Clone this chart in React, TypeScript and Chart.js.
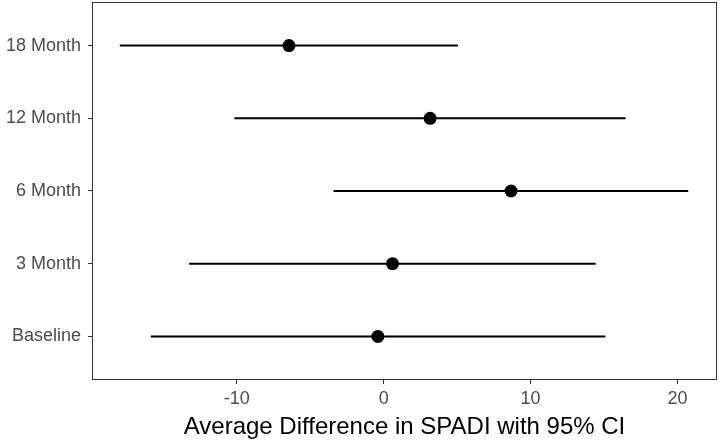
import React, { useEffect, useRef } from "react";
import { Chart, registerables } from "chart.js";

Chart.register(...registerables);

const categories = ["Baseline", "3 Month", "6 Month", "12 Month", "18 Month"];
const means = [-0.4, 0.6, 8.67, 3.16, -6.45];
const lowers = [-15.86, -13.25, -3.41, -10.17, -17.97];
const uppers = [15.09, 14.43, 20.73, 16.47, 5.05];
const xTicks = [-10, 0, 10, 20];

const FONT = "'Liberation Sans', Arial, sans-serif";

const panelBorder = {
  id: "panelBorder",
  afterDraw(chart: any) {
    const { ctx, chartArea } = chart;
    ctx.save();
    ctx.strokeStyle = "#333333";
    ctx.lineWidth = 1;
    ctx.strokeRect(
      Math.round(chartArea.left) + 0.5,
      Math.round(chartArea.top) + 0.5,
      Math.round(chartArea.right - chartArea.left) - 1,
      Math.round(chartArea.bottom - chartArea.top) - 1
    );
    ctx.restore();
  },
};

const zeroPad = (s: any) => {
  s.paddingLeft = 0;
  s.paddingRight = 0;
  s.paddingTop = 0;
  s.paddingBottom = 0;
};

export default function App() {
  const ref = useRef<HTMLCanvasElement>(null);
  useEffect(() => {
    document.body.style.margin = "0";
    const ciSets = categories.map((c, i) => ({
      type: "line" as const,
      label: c + " CI",
      data: [
        { x: lowers[i], y: i + 1 },
        { x: uppers[i], y: i + 1 },
      ],
      borderColor: "#000000",
      borderWidth: 2,
      pointRadius: 0,
      showLine: true,
      fill: false,
    }));
    const chart = new Chart(ref.current as HTMLCanvasElement, {
      type: "scatter",
      data: {
        datasets: [
          ...ciSets,
          {
            type: "scatter" as const,
            label: "Mean",
            data: means.map((m, i) => ({ x: m, y: i + 1 })),
            backgroundColor: "#000000",
            borderColor: "#000000",
            pointRadius: 6.5,
            borderWidth: 0,
          },
        ] as any,
      },
      options: {
        animation: false,
        responsive: false,
        maintainAspectRatio: false,
        layout: { autoPadding: false, padding: { top: 2, right: 3, left: 0, bottom: 0 } },
        plugins: {
          legend: { display: false },
          tooltip: { enabled: false },
        },
        scales: {
          x: {
            type: "linear",
            min: -19.86,
            max: 22.69,
            afterBuildTicks: (s: any) => {
              s.ticks = xTicks.map((v) => ({ value: v }));
            },
            afterFit: (s: any) => {
              s.height = 62;
              zeroPad(s);
            },
            grid: {
              display: true,
              drawOnChartArea: false,
              drawTicks: true,
              tickLength: 4,
              tickColor: "#333333",
              tickWidth: 1,
            },
            border: { display: false },
            ticks: {
              color: "#4d4d4d",
              font: { family: FONT, size: 18 },
              padding: 4,
              maxRotation: 0,
              autoSkip: false,
            },
            title: {
              display: true,
              text: "Average Difference in SPADI with 95% CI",
              color: "#000000",
              font: { family: FONT, size: 24 },
              padding: { top: 0, bottom: 0 },
            },
          },
          y: {
            type: "linear",
            min: 0.4,
            max: 5.6,
            afterBuildTicks: (s: any) => {
              s.ticks = categories.map((_, i) => ({ value: i + 1 }));
            },
            afterFit: (s: any) => {
              s.width = 92;
              zeroPad(s);
            },
            grid: {
              display: true,
              drawOnChartArea: false,
              drawTicks: true,
              tickLength: 4,
              tickColor: "#333333",
              tickWidth: 1,
            },
            border: { display: false },
            ticks: {
              color: "#4d4d4d",
              font: { family: FONT, size: 18 },
              padding: 7,
              autoSkip: false,
              callback: (v: any) => categories[Math.round(Number(v)) - 1] ?? "",
            },
          },
        },
      },
      plugins: [panelBorder],
    });
    return () => chart.destroy();
  }, []);
  return (
    <div style={{ position: "absolute", left: 0, top: 0, width: 720, height: 442, background: "#ffffff" }}>
      <canvas ref={ref} width={720} height={442} style={{ width: 720, height: 442 }} />
    </div>
  );
}
